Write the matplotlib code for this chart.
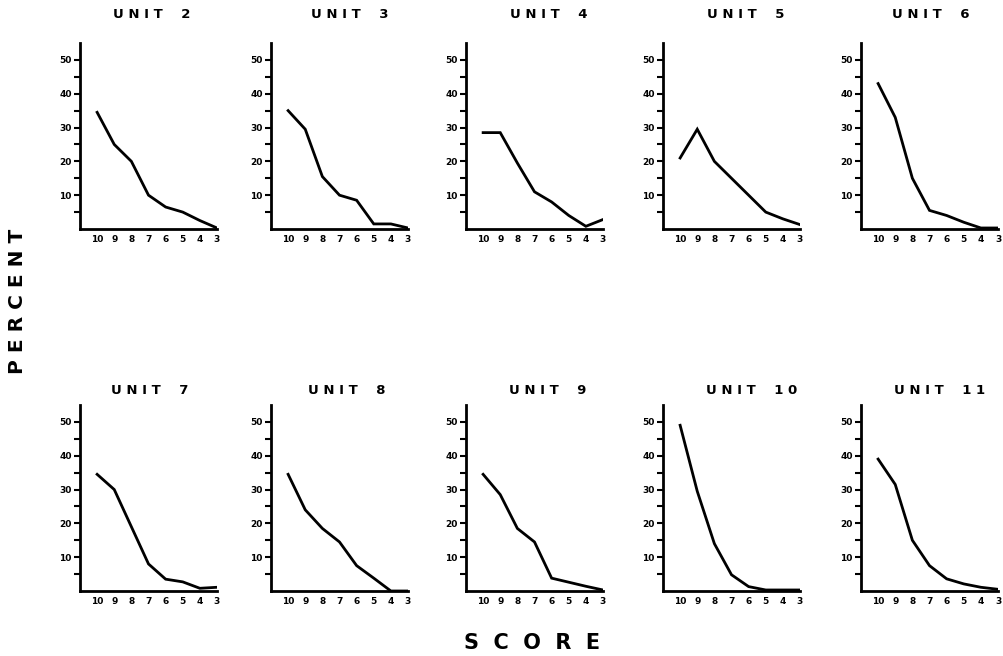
import numpy as np
import matplotlib
matplotlib.use("Agg")
import matplotlib.pyplot as plt

scores = [10, 9, 8, 7, 6, 5, 4, 3]
score_labels = ["10", "9", "8", "7", "6", "5", "4", "3"]

unit_names = ["UNIT 2", "UNIT 3", "UNIT 4", "UNIT 5", "UNIT 6",
              "UNIT 7", "UNIT 8", "UNIT 9", "UNIT 10", "UNIT 11"]

unit2 = [34.5, 25, 20, 10, 6.5, 5, 2.5, 0.3]
unit3 = [35, 29.5, 15.5, 10, 8.5, 1.5, 1.5, 0.3]
unit4 = [28.5, 28.5, 19.5, 11, 8, 4, 0.8, 2.8]
unit5 = [21, 29.5, 20, 15, 10, 5, 3, 1.3]
unit6 = [43, 33, 15, 5.5, 4, 2, 0.3, 0.3]
unit7 = [34.5, 30, 19, 8, 3.5, 2.7, 0.8, 1.1]
unit8 = [34.5, 24, 18.5, 14.5, 7.5, 3.8, 0, 0]
unit9 = [34.5, 28.5, 18.5, 14.5, 3.8, 2.6, 1.4, 0.3]
unit10 = [49, 29.5, 14, 4.8, 1.3, 0.3, 0.3, 0.3]
unit11 = [39, 31.5, 15, 7.5, 3.6, 2.1, 1.1, 0.5]

all_units = [unit2, unit3, unit4, unit5, unit6,
             unit7, unit8, unit9, unit10, unit11]

W, H = 1004, 656
fig = plt.figure(figsize=(W / 100, H / 100), dpi=100)

# layout in pixels
lefts = [80, 271, 466, 663, 861]
ax_w = 137
ax_h = 186
bottoms = [229, 591]   # y of x-axis line (from top)
title_y = [15, 390]
title_x = [[152, 350, 549, 746, 931], [150, 347, 548, 752, 940]]


def spaced(s, sep=" "):
    return sep.join(s).replace(sep * 3, sep * 4)


for i, vals in enumerate(all_units):
    row, col = divmod(i, 5)
    l = lefts[col] / W
    b = (H - bottoms[row]) / H
    ax = fig.add_axes([l, b, ax_w / W, ax_h / H])
    ax.plot(scores, vals, color="black", lw=2, solid_joinstyle="miter")
    ax.set_xlim(11, 3)
    ax.set_ylim(0, 55)
    for s in ["top", "right"]:
        ax.spines[s].set_visible(False)
    for s in ["left", "bottom"]:
        ax.spines[s].set_linewidth(2)
    ax.set_xticks(scores)
    ax.set_xticklabels(score_labels)
    ax.set_yticks([10, 20, 30, 40, 50])
    ax.set_yticks([5, 15, 25, 35, 45], minor=True)
    ax.tick_params(axis="y", which="both", direction="out", length=4, width=1.5, pad=2,
                   labelsize=6.5)
    ax.tick_params(axis="x", direction="out", length=0, width=1.5, pad=4, labelsize=6.5)
    for lab in ax.get_xticklabels() + ax.get_yticklabels():
        lab.set_fontweight("heavy")
    fig.text(title_x[row][col] / W, 1 - title_y[row] / H, spaced(unit_names[i]),
             ha="center", va="center", fontsize=9.5, fontweight="heavy")

fig.text(18 / W, 1 - 301 / H, spaced("PERCENT"), rotation=90, ha="center",
         va="center", fontsize=14.5, fontweight="heavy")
fig.text(532 / W, 1 - 643 / H, spaced("SCORE", "  "), ha="center", va="center",
         fontsize=15, fontweight="heavy")

fig.savefig("out.png", dpi=100)
